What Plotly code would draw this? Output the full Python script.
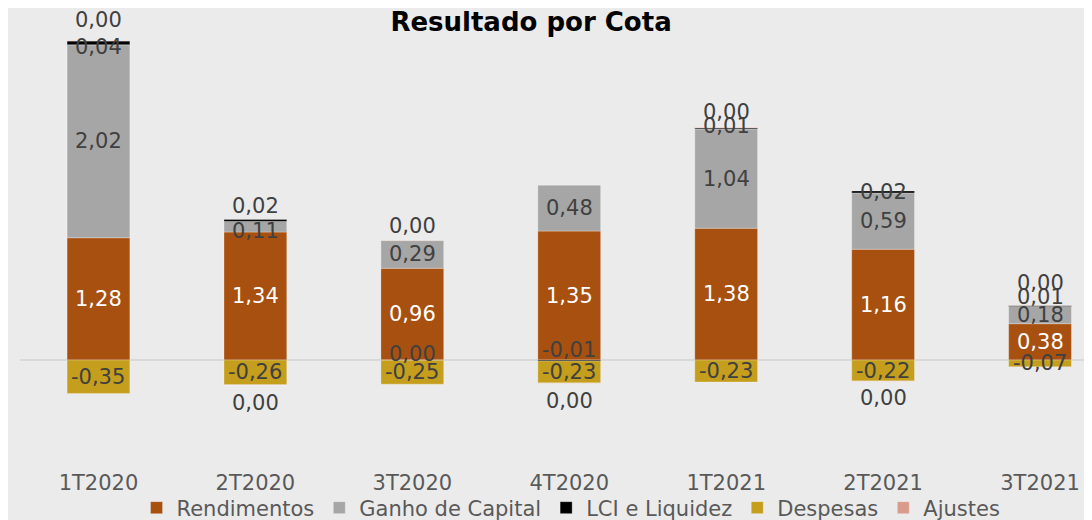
import plotly.graph_objects as go

categories = ["1T2020", "2T2020", "3T2020", "4T2020", "1T2021", "2T2021", "3T2021"]
rendimentos = [1.28, 1.34, 0.96, 1.35, 1.38, 1.16, 0.38]
ganho_capital = [2.02, 0.11, 0.29, 0.48, 1.04, 0.59, 0.18]
lci_liquidez = [0.04, 0.02, -0.003, -0.01, 0.01, 0.02, 0.01]
despesas = [-0.35, -0.26, -0.25, -0.23, -0.23, -0.22, -0.07]
ajustes = [0.003, -0.003, 0.004, -0.003, 0.004, -0.003, 0.003]

series = [
    ("Rendimentos", rendimentos, "#A8500F", "white"),
    ("Ganho de Capital", ganho_capital, "#A6A6A6", "#404040"),
    ("LCI e Liquidez", lci_liquidez, "#000000", "#404040"),
    ("Despesas", despesas, "#C49E1C", "#404040"),
    ("Ajustes", ajustes, "#D99C8C", "#404040"),
]

# label pixel offsets (style only)
label_shift = {
    "Ganho de Capital": [0, -4, 0, 0, 0, 0, 0],
    "LCI e Liquidez": [-4, 15, 6, 10, 2, 0, 9],
    "Ajustes": [21, -18, 14, -18, 16, -17, 22],
}

FONT = "DejaVu Sans"
LABEL_SIZE = 21

def fmt(v):
    s = f"{v:.2f}"
    if s == "-0.00":
        s = "0.00"
    return s.replace(".", ",")

fig = go.Figure()
pos_cum = [0.0] * len(categories)
neg_cum = [0.0] * len(categories)
annotations = []
for name, vals, color, tcolor in series:
    fig.add_trace(go.Bar(
        name=name, x=categories, y=vals,
        marker=dict(color=color, line=dict(color="rgba(255,255,255,0.35)", width=0.8)),
        width=0.4, textposition="none", hoverinfo="skip",
    ))
    shifts = label_shift.get(name, [0] * len(categories))
    for i, v in enumerate(vals):
        if v >= 0:
            base = pos_cum[i]
            pos_cum[i] += v
            end = pos_cum[i]
        else:
            base = neg_cum[i]
            neg_cum[i] += v
            end = neg_cum[i]
        y = end if name == "Ajustes" else (base + end) / 2
        annotations.append(dict(
            x=categories[i], y=y, xref="x", yref="y", text=fmt(v), showarrow=False,
            yshift=shifts[i], font=dict(family=FONT, size=LABEL_SIZE, color=tcolor),
        ))

fig.update_layout(
    barmode="relative",
    width=1092, height=520,
    margin=dict(l=12, r=0, t=2, b=60, autoexpand=False),
    paper_bgcolor="#EBEBEB", plot_bgcolor="#EBEBEB",
    annotations=annotations,
    title=dict(text="<b>Resultado por Cota</b>", x=0.479, xanchor="center",
               y=1 - 14 / 520, yanchor="middle", yref="container",
               font=dict(family=FONT, size=26, color="#000000")),
    showlegend=True,
    legend=dict(orientation="h", x=0.5156, xanchor="center", xref="container",
                y=1 - 500 / 520, yanchor="middle", yref="container",
                font=dict(family=FONT, size=21, color="#595959"),
                itemwidth=30, traceorder="normal", bgcolor="rgba(0,0,0,0)"),
)
fig.update_xaxes(range=[-0.5, 6.382], showgrid=False, showline=False, ticks="",
                 tickfont=dict(family=FONT, size=21, color="#595959"), fixedrange=True)
fig.update_yaxes(range=[-1.131, 3.665], showgrid=False, showticklabels=False, zeroline=True,
                 zerolinecolor="#D9D9D9", zerolinewidth=1.5, fixedrange=True)

fig.write_html("out.html")
